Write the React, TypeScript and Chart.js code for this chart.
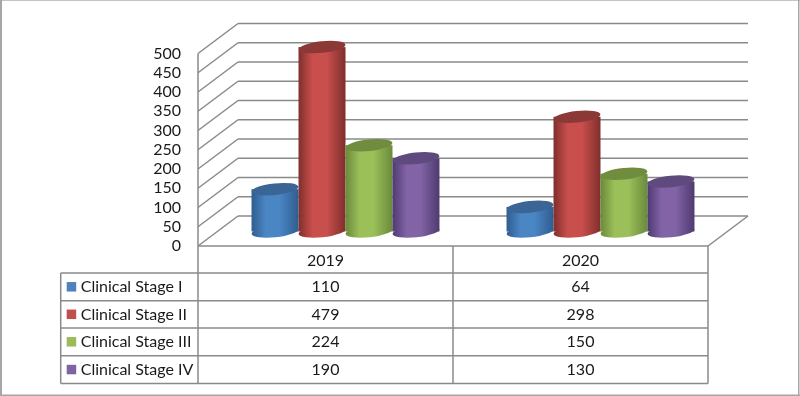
import React, { useEffect, useRef } from "react";
import { Chart, registerables } from "chart.js";

Chart.register(...registerables);

const years = ["2019", "2020"];
const stageNames = ["Clinical Stage I", "Clinical Stage II", "Clinical Stage III", "Clinical Stage IV"];
const stageI = [110, 64];
const stageII = [479, 298];
const stageIII = [224, 150];
const stageIV = [190, 130];
const swatches = ["#4f81bd", "#c0504d", "#9bbb59", "#8064a2"];
const bodyEdge = ["#2f5d8f", "#7f2f2d", "#6a8a3a", "#4f3b70"];
const bodyMid = ["#4a85c4", "#c94f4c", "#9bbf59", "#8163a6"];
const capFill = ["#3a6595", "#8c3836", "#6f8c3f", "#5e4a7c"];

const FONT = "Lato, Carlito, sans-serif";
const LINE = "#8a8a8a";
const DEPTH_X = 40;
const DEPTH_Y = 30;
const ROW_LINES = [273, 300.7, 328, 355.7, 383.5];
const TABLE_LEFT = 60.7;

function cylinder(ctx: CanvasRenderingContext2D, cx: number, top: number, bottom: number, w: number, i: number) {
  const a = w / 2;
  const b = 5.8;
  const rot = (-6 * Math.PI) / 180;
  const g = ctx.createLinearGradient(cx - a, 0, cx + a, 0);
  g.addColorStop(0, bodyEdge[i]);
  g.addColorStop(0.3, bodyMid[i]);
  g.addColorStop(0.6, bodyMid[i]);
  g.addColorStop(1, bodyEdge[i]);
  ctx.fillStyle = g;
  ctx.beginPath();
  ctx.ellipse(cx, bottom, a, b, rot, 0, Math.PI * 2);
  ctx.fill();
  ctx.fillRect(cx - a, top, w, bottom - top);
  ctx.fillStyle = capFill[i];
  ctx.beginPath();
  ctx.ellipse(cx, top, a, b, rot, 0, Math.PI * 2);
  ctx.fill();
}

const scene3d = {
  id: "scene3d",
  beforeDatasetsDraw(chart: any) {
    const ctx: CanvasRenderingContext2D = chart.ctx;
    const { x: xs, y: ys } = chart.scales;
    const left = xs.left;
    const right = xs.right;
    ctx.save();
    ctx.strokeStyle = LINE;
    ctx.lineWidth = 1.5;
    const seg = (x1: number, y1: number, x2: number, y2: number) => {
      ctx.beginPath();
      ctx.moveTo(x1, y1);
      ctx.lineTo(x2, y2);
      ctx.stroke();
    };
    ys.ticks.forEach((t: any) => {
      const y = ys.getPixelForValue(t.value);
      seg(left, y, left + DEPTH_X, y - DEPTH_Y);
      seg(left + DEPTH_X, y - DEPTH_Y, right + DEPTH_X, y - DEPTH_Y);
    });
    const y0 = ys.getPixelForValue(0);
    seg(right, y0, right + DEPTH_X, y0 - DEPTH_Y);
    // cylinders, standing half way into the floor
    chart.data.datasets.forEach((_: any, i: number) => {
      chart.getDatasetMeta(i).data.forEach((bar: any) => {
        cylinder(ctx, bar.x + DEPTH_X / 2, bar.y - DEPTH_Y / 2 + 0.5, bar.base - DEPTH_Y / 2 + 0.5, bar.width, i);
      });
    });
    ctx.restore();
    return false;
  },
  afterDraw(chart: any) {
    const ctx: CanvasRenderingContext2D = chart.ctx;
    const { x: xs, y: ys } = chart.scales;
    const left = xs.left;
    const right = xs.right;
    const y0 = ys.getPixelForValue(0);
    const yTop = ys.getPixelForValue(500);
    const last = ROW_LINES[ROW_LINES.length - 1];
    ctx.save();
    ctx.strokeStyle = LINE;
    ctx.lineWidth = 1.5;
    const seg = (x1: number, y1: number, x2: number, y2: number) => {
      ctx.beginPath();
      ctx.moveTo(x1, y1);
      ctx.lineTo(x2, y2);
      ctx.stroke();
    };
    seg(left, yTop, left, last);
    seg(right, y0, right, last);
    seg((left + right) / 2, y0, (left + right) / 2, last);
    seg(left, y0, right, y0);
    ROW_LINES.forEach((y) => seg(TABLE_LEFT, y, right, y));
    seg(TABLE_LEFT, ROW_LINES[0], TABLE_LEFT, last);

    ctx.textBaseline = "middle";
    ctx.font = `16px ${FONT}`;
    chart.data.datasets.forEach((ds: any, i: number) => {
      const cy = (ROW_LINES[i] + ROW_LINES[i + 1]) / 2;
      ctx.fillStyle = swatches[i];
      ctx.fillRect(66.7, cy - 4.8, 9.5, 9.5);
      ctx.fillStyle = "#1a1a1a";
      ctx.textAlign = "left";
      ctx.fillText(stageNames[i], 80.7, cy);
      ctx.textAlign = "center";
      ds.data.forEach((v: number, j: number) => {
        ctx.fillText(String(v), xs.getPixelForTick(j), cy);
      });
    });

    // picture frame
    ctx.fillStyle = "#c4c4c4";
    ctx.fillRect(0, 0, 800, 1);
    ctx.fillStyle = "#a6a6a6";
    ctx.fillRect(0, 0, 2, 396);
    ctx.fillRect(0, 394.5, 800, 1.5);
    ctx.fillRect(798, 0, 1.5, 396);
    ctx.restore();
  },
};

export default function App() {
  const ref = useRef<HTMLCanvasElement>(null);
  useEffect(() => {
    const chart = new Chart(ref.current as HTMLCanvasElement, {
      type: "bar",
      data: {
        labels: years,
        datasets: [stageI, stageII, stageIII, stageIV].map((data, i) => ({
          label: stageNames[i],
          data,
          backgroundColor: swatches[i],
          barPercentage: 1,
          categoryPercentage: 0.737,
        })),
      },
      options: {
        responsive: false,
        animation: false,
        layout: { padding: { left: 138, right: 92, top: 53.5, bottom: 123 } },
        plugins: { legend: { display: false }, tooltip: { enabled: false }, title: { display: false } },
        scales: {
          x: {
            grid: { display: false, drawTicks: false },
            border: { display: false },
            afterFit: (s: any) => {
              s.height = 27;
            },
            ticks: { color: "#1a1a1a", font: { family: FONT, size: 16 }, padding: 5, maxRotation: 0 },
          },
          y: {
            min: 0,
            max: 500,
            grid: { display: false, drawTicks: false },
            border: { display: false },
            afterFit: (s: any) => {
              s.width = 60;
            },
            ticks: {
              stepSize: 50,
              autoSkip: false,
              color: "#1a1a1a",
              font: { family: FONT, size: 16 },
              padding: 17,
            },
          },
        },
      },
      plugins: [scene3d],
    } as any);
    return () => chart.destroy();
  }, []);
  return (
    <div style={{ position: "fixed", left: 0, top: 0, width: 800, height: 396, background: "#fff" }}>
      <canvas ref={ref} width={800} height={396} style={{ display: "block", filter: "blur(0.4px)" }} />
    </div>
  );
}
